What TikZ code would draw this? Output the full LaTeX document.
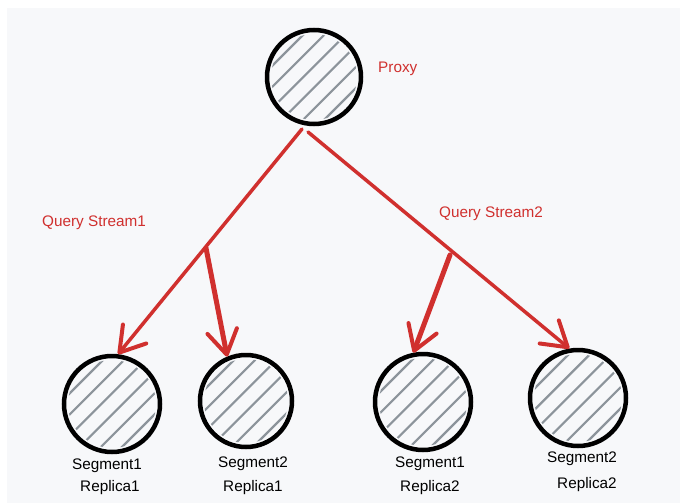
\documentclass[tikz,border=0pt]{standalone}
\usepackage{fontspec}
\setmainfont{Liberation Sans}
\usetikzlibrary{arrows.meta,calc}
\definecolor{paper}{HTML}{F7F8FA}
\definecolor{streamred}{RGB}{208,48,46}
\definecolor{hatchgray}{HTML}{8C949B}
\tikzset{
  seg/.style={circle, draw=black, line width=4.5pt, minimum size=#1, inner sep=0pt},
  lbl/.style={font=\fontsize{15.3}{18}\selectfont, text=black, inner sep=0pt},
  redlbl/.style={font=\fontsize{15.3}{18}\selectfont, text=streamred, inner sep=0pt},
  stream/.style={draw=streamred, line width=3.5pt, line cap=round,
    -{Straight Barb[length=24pt,width=30pt,line width=4pt,round]}},
  branch/.style={stream, line width=5pt},
}
% diagonal hatching inside a circle: #1 centre, #2 radius
\newcommand\hatchfill[2]{%
  \begin{scope}
    \clip (#1) circle (#2-4);
    \foreach \d in {-37.5,-22.5,...,40}
      \draw[hatchgray, line width=2.2pt, line cap=round]
        ($(#1)+(0.707*\d,0.707*\d)+(-60,60)$) -- ($(#1)+(0.707*\d,0.707*\d)+(60,-60)$);
  \end{scope}}
\begin{document}
\begin{tikzpicture}[x=1pt,y=-1pt]
  % canvas
  \useasboundingbox (0,0) rectangle (680,503);
  \fill[white] (0,0) rectangle (680,503);
  \fill[paper] (7,8) rectangle (680,503);

  % hatching first, outlines on top
  \coordinate (cp) at (314,77);
  \coordinate (c1) at (112,404);
  \coordinate (c2) at (246,401);
  \coordinate (c3) at (423,402);
  \coordinate (c4) at (578,398);
  \hatchfill{cp}{47}
  \hatchfill{c1}{48}
  \hatchfill{c2}{46}
  \hatchfill{c3}{48}
  \hatchfill{c4}{48}

  \node[seg=94pt] (proxy) at (cp) {};
  \node[seg=96pt] (s1) at (c1) {};
  \node[seg=92pt] (s2) at (c2) {};
  \node[seg=96pt] (s3) at (c3) {};
  \node[seg=96pt] (s4) at (c4) {};

  % labels
  \node[redlbl, anchor=west] (plabel) at (378,69) {Proxy};
  \node[redlbl, anchor=west] (q1) at (42,223) {Query Stream1};
  \node[redlbl, anchor=west] (q2) at (439,214) {Query Stream2};

  \node[lbl] (l1a) at (107,466) {Segment1};
  \node[lbl] (l1b) at (110,488) {Replica1};
  \node[lbl] (l2a) at (253,464) {Segment2};
  \node[lbl] (l2b) at (253,488) {Replica1};
  \node[lbl] (l3a) at (430,464) {Segment1};
  \node[lbl] (l3b) at (430,488) {Replica2};
  \node[lbl] (l4a) at (582,459) {Segment2};
  \node[lbl] (l4b) at (587,485) {Replica2};

  % query streams
  \coordinate (o1) at (302,129);
  \coordinate (o2) at (308,132);
  \coordinate (b1) at (206,248);
  \coordinate (b2) at (450,255);

  \draw[stream] (o1) -- (s1.83);
  \draw[branch] (b1) -- (s2.113);
  \draw[stream] (o2) -- (s4.100);
  \draw[branch] (b2) -- (s3.101);
\end{tikzpicture}
\end{document}
